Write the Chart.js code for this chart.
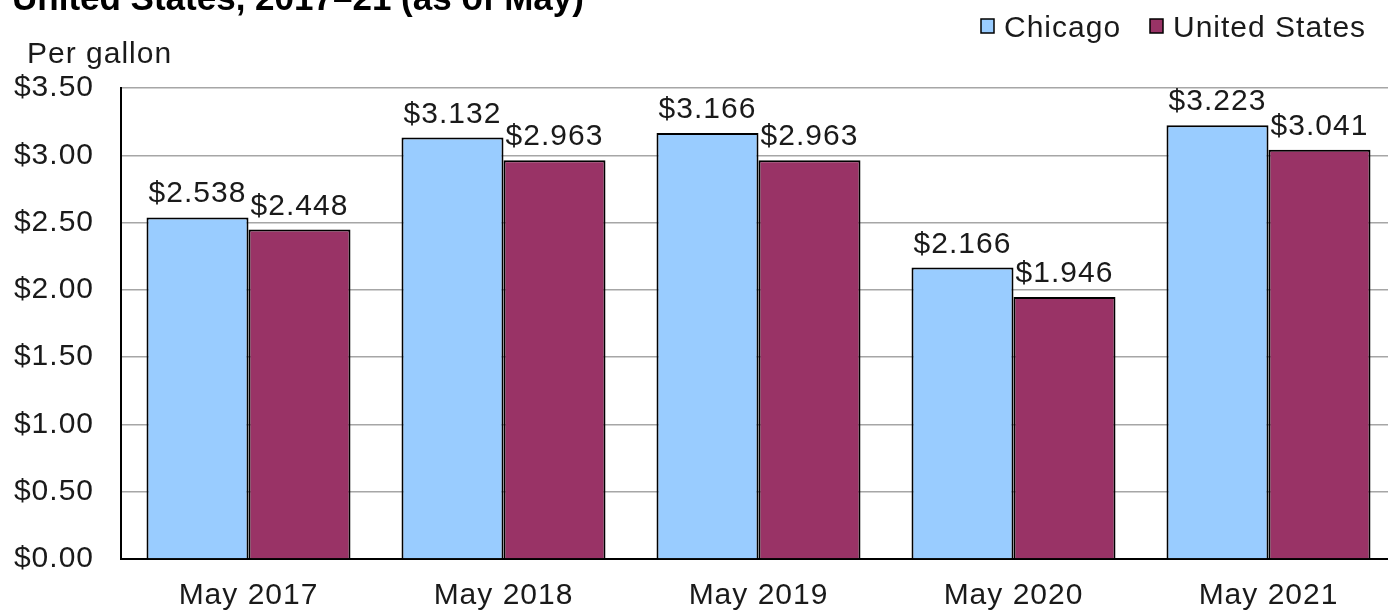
<!DOCTYPE html>
<html>
<head>
<meta charset="utf-8">
<script src="https://cdn.jsdelivr.net/npm/chart.js@4.4.1/dist/chart.umd.min.js"></script>
<style>
  html, body { margin: 0; padding: 0; background: #fff; overflow: hidden; width: 1388px; height: 611px; }
  #wrap { width: 1400px; height: 611px; }
</style>
</head>
<body>
<div id="wrap"><canvas id="c" width="1400" height="611"></canvas></div>
<script>
const categories = ['May 2017', 'May 2018', 'May 2019', 'May 2020', 'May 2021'];
const chicago = [2.538, 3.132, 3.166, 2.166, 3.223];
const unitedStates = [2.448, 2.963, 2.963, 1.946, 3.041];
const seriesNames = ['Chicago', 'United States'];
const titleText = 'United States, 2017\u201321 (as of May)';
const unitText = 'Per gallon';

const FONT = '"Liberation Sans", Arial, sans-serif';
const TEXT = '#1a1a1a';

const spacing = {
  id: 'spacing',
  beforeDraw(chart) { chart.ctx.letterSpacing = '1px'; }
};

const overlay = {
  id: 'overlay',
  afterDraw(chart) {
    const ctx = chart.ctx;
    ctx.save();
    ctx.letterSpacing = '0px';
    ctx.fillStyle = '#000';
    ctx.font = 'bold 35px ' + FONT;
    ctx.textAlign = 'left';
    ctx.textBaseline = 'alphabetic';
    ctx.fillText(titleText, 12, 10);
    ctx.letterSpacing = '1px';
    ctx.fillStyle = TEXT;
    ctx.font = '30px ' + FONT;
    ctx.fillText(unitText, 27, 63);
    const items = [
      { x: 981, ds: chart.data.datasets[0] },
      { x: 1150, ds: chart.data.datasets[1] }
    ];
    items.forEach(it => {
      ctx.fillStyle = it.ds.backgroundColor;
      ctx.fillRect(it.x, 19, 13, 14);
      ctx.strokeStyle = '#000';
      ctx.lineWidth = 1.5;
      ctx.strokeRect(it.x, 19, 13, 14);
      ctx.fillStyle = TEXT;
      ctx.font = '30px ' + FONT;
      ctx.fillText(it.ds.label, it.x + 23, 37);
    });
    ctx.textAlign = 'center';
    ctx.font = '30px ' + FONT;
    ctx.fillStyle = TEXT;
    chart.data.datasets.forEach((ds, di) => {
      const meta = chart.getDatasetMeta(di);
      meta.data.forEach((bar, i) => {
        ctx.fillText('$' + ds.data[i].toFixed(3), bar.x, bar.y - 15);
      });
    });
    ctx.restore();
  }
};

new Chart(document.getElementById('c'), {
  type: 'bar',
  data: {
    labels: categories,
    datasets: [
      { label: seriesNames[0], data: chicago, backgroundColor: '#99CCFF', borderColor: '#000', borderWidth: 2,
        categoryPercentage: 0.8, barPercentage: 1.0 },
      { label: seriesNames[1], data: unitedStates, backgroundColor: '#993366', borderColor: '#000', borderWidth: 2,
        categoryPercentage: 0.8, barPercentage: 1.0 }
    ]
  },
  options: {
    responsive: false,
    animation: false,
    devicePixelRatio: 1,
    layout: { padding: { top: 88, left: 0, right: 4, bottom: 0 } },
    plugins: { legend: { display: false }, tooltip: { enabled: false }, title: { display: false } },
    scales: {
      x: {
        grid: { display: false, drawTicks: false },
        border: { display: true, color: '#000', width: 2 },
        ticks: { color: TEXT, font: { family: FONT, size: 30 }, padding: 19, maxRotation: 0 },
        afterFit(s) { s.height = 52; }
      },
      y: {
        min: 0, max: 3.5,
        grid: { color: ctx => ctx.tick && ctx.tick.value === 0 ? '#000' : '#a6a6a6', lineWidth: 1.5, drawTicks: false },
        border: { display: true, color: '#000', width: 2 },
        ticks: { stepSize: 0.5, color: TEXT, font: { family: FONT, size: 30 }, padding: 27,
          callback: v => '$' + Number(v).toFixed(2) },
        afterFit(s) { s.width = 121; }
      }
    }
  },
  plugins: [spacing, overlay]
});
</script>
</body>
</html>
